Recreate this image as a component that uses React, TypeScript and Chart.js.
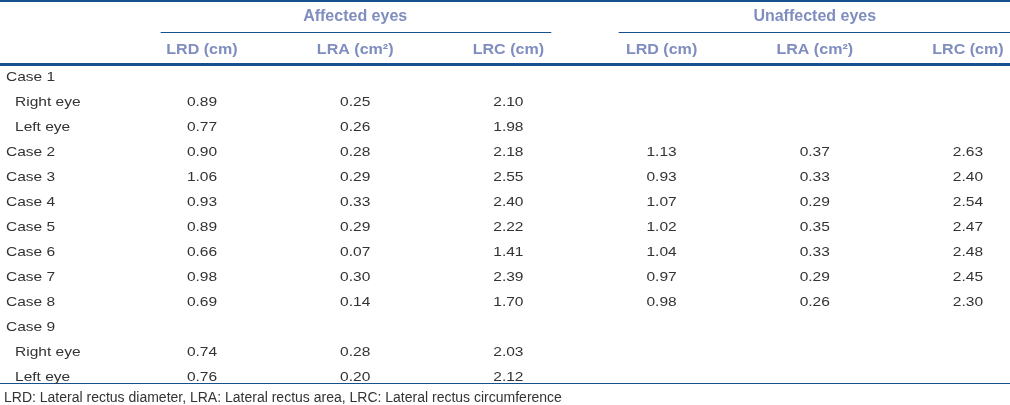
import React, { useEffect, useRef } from "react";
import { Chart, registerables } from "chart.js";

Chart.register(...registerables);

const GROUPS = ["Affected eyes", "Unaffected eyes"];
const COLUMN_HEADERS = ["LRD (cm)", "LRA (cm²)", "LRC (cm)", "LRD (cm)", "LRA (cm²)", "LRC (cm)"];
const ROW_LABELS = [
  "Case 1", "Right eye", "Left eye", "Case 2", "Case 3", "Case 4", "Case 5",
  "Case 6", "Case 7", "Case 8", "Case 9", "Right eye", "Left eye",
];
const SUB_ROWS = [1, 2, 11, 12];

const AFF_LRD = [null, 0.89, 0.77, 0.9, 1.06, 0.93, 0.89, 0.66, 0.98, 0.69, null, 0.74, 0.76];
const AFF_LRA = [null, 0.25, 0.26, 0.28, 0.29, 0.33, 0.29, 0.07, 0.3, 0.14, null, 0.28, 0.2];
const AFF_LRC = [null, 2.1, 1.98, 2.18, 2.55, 2.4, 2.22, 1.41, 2.39, 1.7, null, 2.03, 2.12];
const UNA_LRD = [null, null, null, 1.13, 0.93, 1.07, 1.02, 1.04, 0.97, 0.98, null, null, null];
const UNA_LRA = [null, null, null, 0.37, 0.33, 0.29, 0.35, 0.33, 0.29, 0.26, null, null, null];
const UNA_LRC = [null, null, null, 2.63, 2.4, 2.54, 2.47, 2.48, 2.45, 2.3, null, null, null];

const FOOTNOTE = "LRD: Lateral rectus diameter, LRA: Lateral rectus area, LRC: Lateral rectus circumference";

const COLUMNS = [AFF_LRD, AFF_LRA, AFF_LRC, UNA_LRD, UNA_LRA, UNA_LRC];

const FONT = '"Liberation Sans", Arial, Helvetica, sans-serif';
const RULE = "#17508f";
const HEAD = "#7f8dbf";
const BODY = "#333333";

function stretchText(ctx: any, text: string, x: number, y: number, sx: number) {
  ctx.save();
  ctx.translate(x, y);
  ctx.scale(sx, 1);
  ctx.fillText(text, 0, 0);
  ctx.restore();
}

const tablePlugin = {
  id: "tablePlugin",
  beforeDraw(chart: any) {
    const ctx = chart.ctx;
    ctx.save();
    ctx.fillStyle = "#ffffff";
    ctx.fillRect(0, 0, chart.width, chart.height);
    ctx.restore();
  },
  afterDatasetsDraw(chart: any) {
    const ctx = chart.ctx;
    const xs = chart.scales.x;
    const ys = chart.scales.y;
    const X = (v: number) => xs.getPixelForValue(v);
    const Y = (v: number) => ys.getPixelForValue(v);
    ctx.save();

    const hline = (x1: number, x2: number, y: number, w: number) => {
      ctx.fillStyle = RULE;
      ctx.fillRect(x1, Math.round(y - w / 2), x2 - x1, w);
    };
    const L = chart.chartArea.left;
    const R = chart.chartArea.right;
    hline(L, R, Y(-3.06), 2);
    hline(X(0.73), X(3.28), Y(-1.8), 1);
    hline(X(3.72), R, Y(-1.8), 1);
    hline(L, R, Y(-0.52), 3);
    hline(L, R, Y(12.24), 1);

    ctx.textBaseline = "middle";
    ctx.textAlign = "center";
    ctx.fillStyle = HEAD;
    ctx.font = `bold 16px ${FONT}`;
    GROUPS.forEach((g, i) => ctx.fillText(g, X(2 + i * 3), Y(-2.4)));
    ctx.font = `bold 15px ${FONT}`;
    COLUMN_HEADERS.forEach((h, i) => stretchText(ctx, h, X(i + 1), Y(-1.1), 1.07));

    ctx.fillStyle = BODY;
    ctx.font = `13.5px ${FONT}`;
    chart.data.datasets.forEach((ds: any, di: number) => {
      const meta = chart.getDatasetMeta(di);
      meta.data.forEach((el: any, i: number) => {
        const p = ds.data[i];
        if (!p || !isFinite(el.x) || !isFinite(el.y)) return;
        stretchText(ctx, Number(p.v).toFixed(2), el.x, el.y, 1.15);
      });
    });

    ctx.textAlign = "left";
    ROW_LABELS.forEach((lab, i) => {
      const indent = SUB_ROWS.includes(i) ? 15 : 6;
      stretchText(ctx, lab, L + indent, Y(i), 1.15);
    });

    ctx.font = `14px ${FONT}`;
    ctx.fillText(FOOTNOTE, L + 4, Y(12.84));
    ctx.restore();
  },
};

export default function App() {
  const ref = useRef<HTMLCanvasElement | null>(null);
  useEffect(() => {
    document.body.style.margin = "0";
    const canvas = ref.current!;
    const datasets = COLUMNS.map((col, ci) => {
      const pts: { x: number; y: number; v: number }[] = [];
      col.forEach((v, ri) => {
        if (v != null) pts.push({ x: ci + 1, y: ri, v: v as number });
      });
      return {
        label: COLUMN_HEADERS[ci],
        data: pts,
        pointRadius: 0,
        pointHoverRadius: 0,
        showLine: false,
      };
    });
    const chart = new Chart(canvas, {
      type: "scatter",
      data: { datasets: datasets as any },
      options: {
        responsive: false,
        animation: false,
        layout: { padding: 0 },
        plugins: { legend: { display: false }, tooltip: { enabled: false } },
        scales: {
          x: { type: "linear", display: false, min: -0.3185, max: 6.2745 },
          y: { type: "linear", display: false, reverse: true, min: -3.08, max: 13.12 },
        },
      },
      plugins: [tablePlugin],
    });
    return () => chart.destroy();
  }, []);
  return (
    <div style={{ width: 1010, height: 405 }}>
      <canvas ref={ref} width={1010} height={405} style={{ display: "block" }} />
    </div>
  );
}
